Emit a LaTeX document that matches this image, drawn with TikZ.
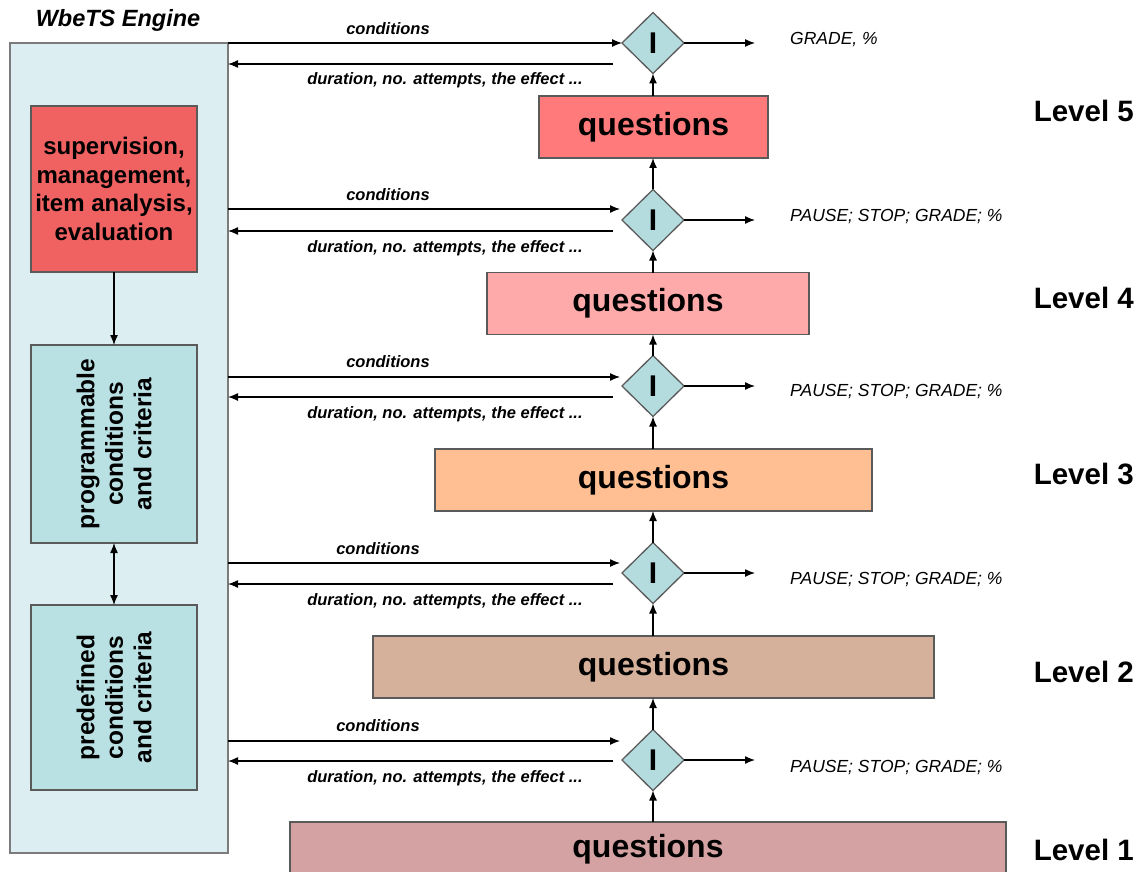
\documentclass[tikz,border=0pt]{standalone}
\usepackage{fontspec}
\setmainfont{Liberation Sans}
\usetikzlibrary{shapes.geometric,arrows.meta}
\definecolor{enginefill}{HTML}{DDEEF2}
\definecolor{tealfill}{HTML}{B9E0E3}
\definecolor{diafill}{HTML}{B4DCDF}
\definecolor{redfill}{HTML}{F06262}
\definecolor{qfivefill}{HTML}{FF7B7B}
\definecolor{qfourfill}{HTML}{FFAAAA}
\definecolor{qthreefill}{HTML}{FFBF92}
\definecolor{qtwofill}{HTML}{D5B19B}
\definecolor{qonefill}{HTML}{D4A2A2}
\definecolor{edge}{HTML}{5A5A5A}
\tikzset{
  box/.style={draw=edge, line width=1.3pt, inner sep=0pt, outer sep=0pt},
  qbox/.style={box, minimum height=62pt, font=\fontsize{32}{32}\selectfont\bfseries},
  dia/.style={diamond, draw=edge, fill=diafill, line width=1.3pt, inner sep=0pt, outer sep=0pt,
    minimum width=62pt, minimum height=61pt, font=\fontsize{30}{30}\selectfont\bfseries},
  conn/.style={line width=1.3pt, -{Latex[length=10pt,width=8pt]}},
  lbl/.style={font=\fontsize{16.5}{16.5}\selectfont\bfseries\itshape, inner sep=0pt},
  outl/.style={font=\fontsize{17.5}{17.5}\selectfont\itshape, inner sep=0pt, anchor=west},
  lvl/.style={font=\fontsize{29.5}{29.5}\selectfont\bfseries, inner sep=0pt, anchor=east},
  inner/.style={box, fill=tealfill, minimum width=166pt, align=center,
    font=\fontsize{24}{28.5}\selectfont\bfseries}
}
\begin{document}
\begin{tikzpicture}[x=1pt,y=-1pt]
\useasboundingbox[fill=white] (0,0) rectangle (1141,872);

% engine
\node[lbl, font=\fontsize{23.5}{23.5}\selectfont\bfseries\itshape] (title) at (118,20) {WbeTS Engine};
\node[box, fill=enginefill, draw=edge!80, minimum width=218pt, minimum height=810pt] (engine) at (119,448) {};
\node[box, fill=redfill, minimum width=166pt, minimum height=166pt, align=center,
  font=\fontsize{24}{28.5}\selectfont\bfseries] (sup) at (114,189)
  {supervision,\\management,\\item analysis,\\evaluation};
\node[inner, minimum height=198pt] (prog) at (114,444) {};
\node[rotate=90, align=center, inner sep=0pt, font=\fontsize{24.5}{28.5}\selectfont\bfseries] (progt) at (prog.center) {programmable\\conditions\\and criteria};
\node[inner, minimum height=185pt] (pre) at (114,697.5) {};
\node[rotate=90, align=center, inner sep=0pt, font=\fontsize{24.5}{28.5}\selectfont\bfseries] (pret) at (pre.center) {predefined\\conditions\\and criteria};
\draw[conn] (sup.south) -- (prog.north);
\draw[line width=1.3pt, {Latex[length=10pt,width=8pt]}-{Latex[length=10pt,width=8pt]}] (prog.south) -- (pre.north);

% question boxes
\node[qbox, fill=qfivefill, minimum width=229pt] (q5) at (653.5,127) {questions};
\node[qbox, fill=qfourfill, minimum width=322pt] (q4) at (648,303.5) {questions};
\node[qbox, fill=qthreefill, minimum width=437pt] (q3) at (653.5,480) {questions};
\node[qbox, fill=qtwofill, minimum width=561pt] (q2) at (653.5,667) {questions};
\node[qbox, fill=qonefill, minimum width=716pt, minimum height=60pt] (q1) at (648,852) {};
\node[font=\fontsize{32}{32}\selectfont\bfseries, inner sep=0pt] (q1t) at (648,849) {questions};

% diamonds
\node[dia] (d5) at (653,43) {I};
\node[dia] (d4) at (653,220) {I};
\node[dia] (d3) at (653,386) {I};
\node[dia] (d2) at (653,573) {I};
\node[dia] (d1) at (653,760) {I};

% vertical flow
\draw[conn] (q1.north -| d1.south) -- (d1.south);
\draw[conn] (d1.north) -- (q2.south -| d1.north);
\draw[conn] (q2.north -| d2.south) -- (d2.south);
\draw[conn] (d2.north) -- (q3.south -| d2.north);
\draw[conn] (q3.north -| d3.south) -- (d3.south);
\draw[conn] (d3.north) -- (q4.south -| d3.north);
\draw[conn] (q4.north -| d4.south) -- (d4.south);
\draw[conn] (d4.north) -- (q5.south -| d4.north);
\draw[conn] (q5.north -| d5.south) -- (d5.south);

% row 5
\coordinate (r5) at (613,64);
\draw[conn] (engine.east |- d5.west) -- (d5.west);
\draw[conn] (r5) -- (r5 -| engine.east);
\node[lbl] (cl5) at (388,29) {conditions};
\node[lbl] (dl5) at (445,80) {duration, no. attempts, the effect ...};
\coordinate (o5) at (755,43);
\draw[conn] (d5.east) -- (o5 |- d5.east);
\node[outl] (ol5) at (790,40) {GRADE, \%};
\node[lvl] (lv5) at (1134,111) {Level 5};

% row 4
\coordinate (c4) at (620,209);
\coordinate (r4) at (613,231);
\draw[conn] (engine.east |- c4) -- (c4);
\draw[conn] (r4) -- (r4 -| engine.east);
\node[lbl] (cl4) at (388,195) {conditions};
\node[lbl] (dl4) at (445,248) {duration, no. attempts, the effect ...};
\coordinate (o4) at (755,220);
\draw[conn] (d4.east) -- (o4 |- d4.east);
\node[outl] (ol4) at (790,217) {PAUSE; STOP; GRADE; \%};
\node[lvl] (lv4) at (1134,298) {Level 4};

% row 3
\coordinate (c3) at (620,377);
\coordinate (r3) at (613,397);
\draw[conn] (engine.east |- c3) -- (c3);
\draw[conn] (r3) -- (r3 -| engine.east);
\node[lbl] (cl3) at (388,362) {conditions};
\node[lbl] (dl3) at (445,414) {duration, no. attempts, the effect ...};
\coordinate (o3) at (755,386);
\draw[conn] (d3.east) -- (o3 |- d3.east);
\node[outl] (ol3) at (790,392) {PAUSE; STOP; GRADE; \%};
\node[lvl] (lv3) at (1134,474) {Level 3};

% row 2
\coordinate (c2) at (620,563);
\coordinate (r2) at (613,584);
\draw[conn] (engine.east |- c2) -- (c2);
\draw[conn] (r2) -- (r2 -| engine.east);
\node[lbl] (cl2) at (378,549) {conditions};
\node[lbl] (dl2) at (445,601) {duration, no. attempts, the effect ...};
\coordinate (o2) at (755,573);
\draw[conn] (d2.east) -- (o2 |- d2.east);
\node[outl] (ol2) at (790,580) {PAUSE; STOP; GRADE; \%};
\node[lvl] (lv2) at (1134,672) {Level 2};

% row 1
\coordinate (c1) at (620,741);
\coordinate (r1) at (613,761);
\draw[conn] (engine.east |- c1) -- (c1);
\draw[conn] (r1) -- (r1 -| engine.east);
\node[lbl] (cl1) at (378,726) {conditions};
\node[lbl] (dl1) at (445,778) {duration, no. attempts, the effect ...};
\coordinate (o1) at (755,760);
\draw[conn] (d1.east) -- (o1 |- d1.east);
\node[outl] (ol1) at (790,768) {PAUSE; STOP; GRADE; \%};
\node[lvl] (lv1) at (1134,850) {Level 1};
\end{tikzpicture}
\end{document}
